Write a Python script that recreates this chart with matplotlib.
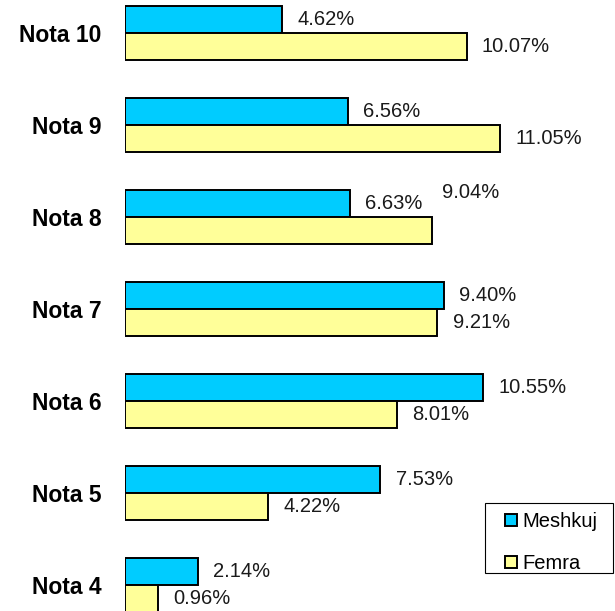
import matplotlib
matplotlib.use("Agg")
import numpy as np
import matplotlib.pyplot as plt
from matplotlib.patches import Patch, Rectangle

plt.rcParams["font.family"] = ["Liberation Sans", "DejaVu Sans"]

# data, bottom to top
categories = ["Nota 4", "Nota 5", "Nota 6", "Nota 7", "Nota 8", "Nota 9", "Nota 10"]
meshkuj = [2.14, 7.53, 10.55, 9.40, 6.63, 6.56, 4.62]
femra = [0.96, 4.22, 8.01, 9.21, 9.04, 11.05, 10.07]
series_names = ["Meshkuj", "Femra"]

BLUE = "#00CCFF"
YELLOW = "#FFFF99"
INK = "#1a1a1a"

W, H = 615, 611
fig = plt.figure(figsize=(W / 100, H / 100), dpi=100)
ax = fig.add_axes([125 / W, 0.0, 490 / W, 1.0])

y = np.arange(len(categories))
h = 0.29
ax.barh(y + h / 2, meshkuj, height=h, color=BLUE, edgecolor="black", linewidth=1.4)
ax.barh(y - h / 2, femra, height=h, color=YELLOW, edgecolor="black", linewidth=1.4)

ax.set_xlim(0, 490 / 33.93)
ax.set_ylim(-26 / 92, 6 + 33 / 92)

# data labels
for i in range(len(categories)):
    ax.annotate(f"{meshkuj[i]:.2f}%", (meshkuj[i], y[i] + h / 2), xytext=(11, 0),
                textcoords="offset points", ha="left", va="center",
                fontsize=14.5, color=INK)
    dx, dy = 11, 0
    if categories[i] == "Nota 8":
        # this one sits up and to the right in the original
        dx, dy = 7.5, 27
    ax.annotate(f"{femra[i]:.2f}%", (femra[i], y[i] - h / 2), xytext=(dx, dy),
                textcoords="offset points", ha="left", va="center",
                fontsize=14.5, color=INK)

ax.set_yticks(y)
ax.set_yticklabels(categories, fontsize=16.5, fontweight="bold", color="black")
ax.tick_params(axis="y", length=0, pad=17)
ax.set_xticks([])
for sp in ax.spines.values():
    sp.set_visible(False)

handles = [Patch(facecolor=BLUE, edgecolor="black", linewidth=1.4),
           Patch(facecolor=YELLOW, edgecolor="black", linewidth=1.4)]
leg = fig.legend(handles, series_names, loc="upper left",
                 bbox_to_anchor=(505 / W, 1 - 512 / H), bbox_transform=fig.transFigure,
                 borderaxespad=0, borderpad=0, fontsize=14.5, frameon=False,
                 handlelength=0.6, handleheight=0.6, handletextpad=0.25,
                 labelspacing=1.15)
fig.patches.append(Rectangle((485 / W, 1 - 573 / H), 128 / W, 70 / H,
                             transform=fig.transFigure, fill=False,
                             edgecolor="black", linewidth=0.8))

fig.savefig("out.png", dpi=100, facecolor="white")
